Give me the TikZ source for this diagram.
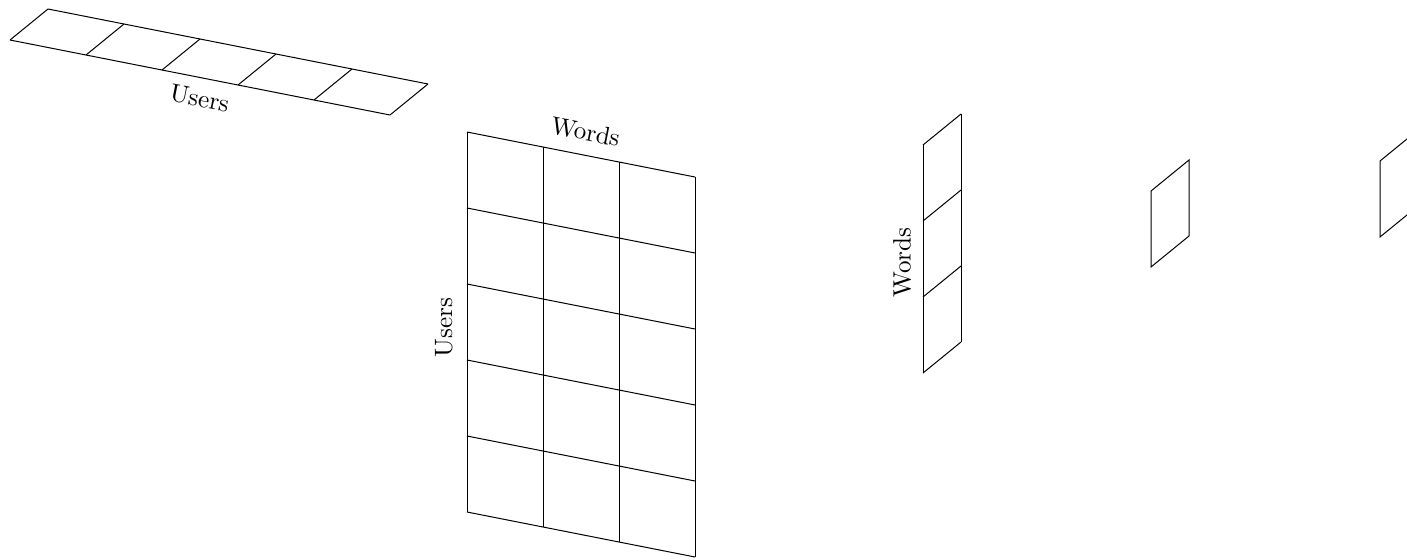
\documentclass[tikz,border=0pt]{standalone}
\usepackage{tikz}
\usetikzlibrary{positioning}
\tikzset{
  cell/.style={draw=black,line width=.4pt},
  lab/.style={sloped,inner sep=1.5pt},
}
\begin{document}
\begin{tikzpicture}[x={(1.064cm,-0.21cm)},y={(0cm,1.064cm)},z={(0.532cm,0.434cm)}]
  \clip (0cm,0cm) rectangle (19.698cm,-7.826cm);
  % flat user strip
  \begin{scope}[shift={(0.14cm,-0.56cm)}]
    \foreach \i in {0,...,5} \draw[cell] (\i,0,0)--(\i,0,1);
    \draw[cell] (0,0,0)--node[lab,below=3pt,pos=.51] (stripUsers) {Users} (5,0,0);
    \draw[cell] (0,0,1)--(5,0,1);
  \end{scope}
  % user x word matrix
  \begin{scope}[shift={(6.538cm,-1.848cm)}]
    \foreach \i in {0,...,3} \draw[cell] (\i,0)--(\i,-5);
    \foreach \j in {0,...,5} \draw[cell] (0,-\j)--(3,-\j);
    \path (0,0)--node[lab,above=4pt] (matWords) {Words} (3,0);
    \path (0,-5)--node[lab,above=4pt,pos=.485] (matUsers) {Users} (0,0);
  \end{scope}
  % word vector
  \begin{scope}[shift={(12.922cm,-5.222cm)}]
    \foreach \j in {0,...,3} \draw[cell] (0,\j,0)--(0,\j,1);
    \draw[cell] (0,0,0)--node[lab,above=3pt,pos=.485] (vecWords) {Words} (0,3,0);
    \draw[cell] (0,0,1)--(0,3,1);
  \end{scope}
  % single cells
  \begin{scope}[shift={(16.114cm,-3.738cm)}]
    \draw[cell] (0,0,0)--(0,1,0)--(0,1,1)--(0,0,1)--cycle;
  \end{scope}
  \begin{scope}[shift={(19.32cm,-3.318cm)}]
    \draw[cell] (0,0,0)--(0,1,0)--(0,1,1)--(0,0,1)--cycle;
  \end{scope}
\end{tikzpicture}
\end{document}
